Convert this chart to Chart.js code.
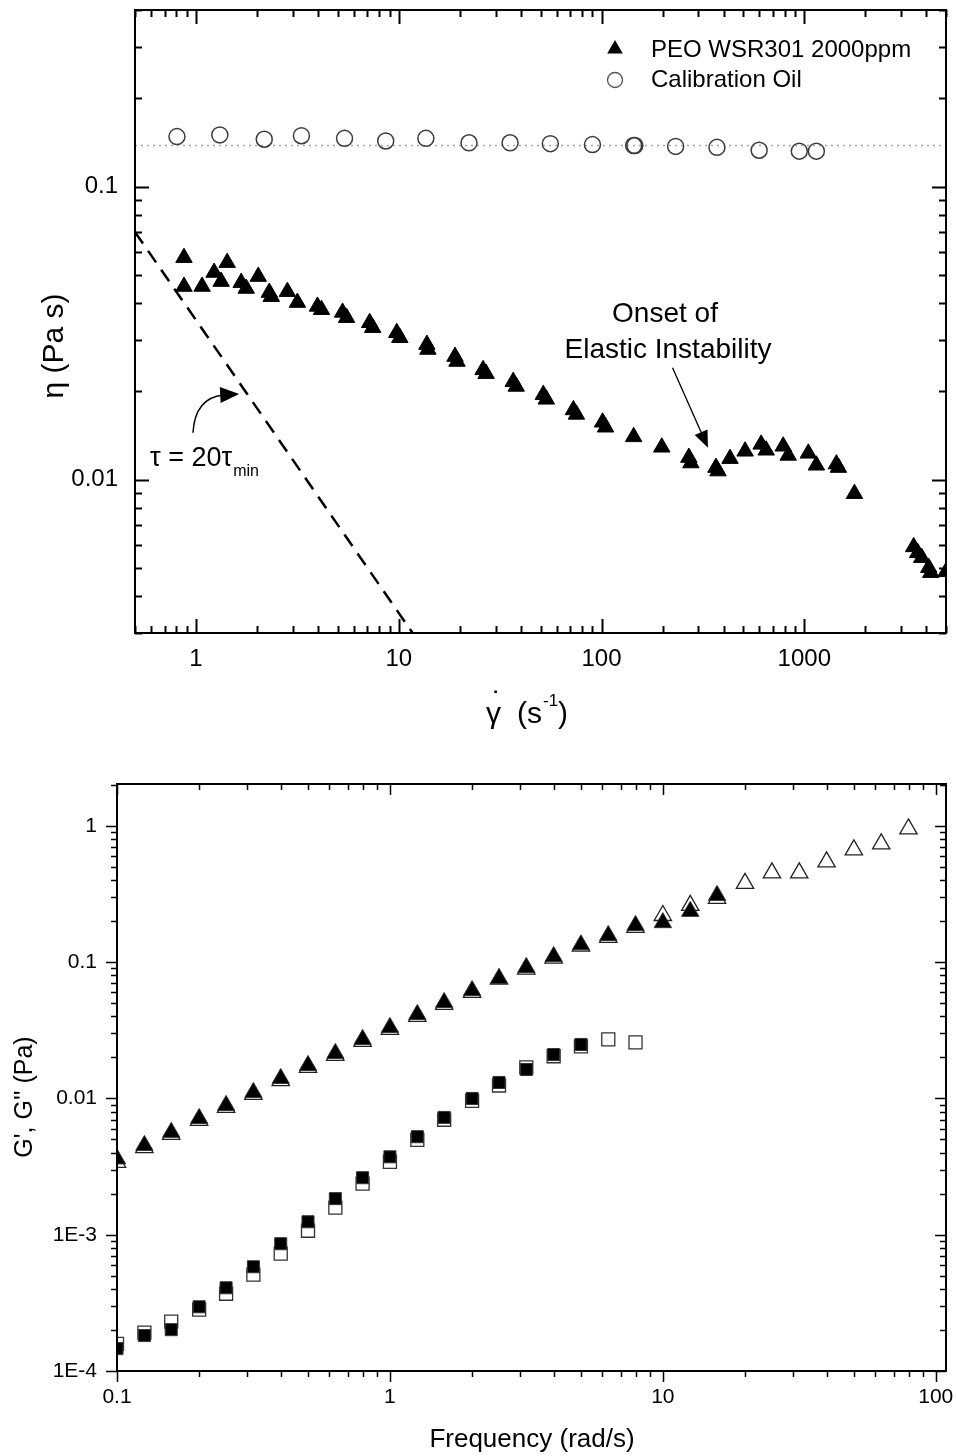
<!DOCTYPE html>
<html>
<head>
<meta charset="utf-8">
<script src="https://cdn.jsdelivr.net/npm/chart.js@4.4.1/dist/chart.umd.min.js"></script>
<style>
  html, body { margin: 0; padding: 0; background: #fff; }
  #page { position: relative; width: 956px; height: 1456px; }
  canvas { position: absolute; left: 0; }
  #viscChart { top: 0; }
  #modChart { top: 745px; }
</style>
</head>
<body>
<div id="page">
  <canvas id="viscChart" width="956" height="745"></canvas>
  <canvas id="modChart" width="956" height="711"></canvas>
</div>
<script>
// top chart: viscosity vs shear rate
const peoShear = [0.872, 0.872, 1.071, 1.228, 1.330, 1.424, 1.670, 1.768, 2.027, 2.298,
  2.351, 2.822, 3.162, 3.972, 4.157, 5.281, 5.528, 7.186, 7.435, 9.773,
  10.12, 13.76, 13.92, 18.94, 19.37, 26.05, 26.96, 36.68, 37.95, 51.62,
  53.41, 72.66, 75.18, 101.2, 104.7, 144.0, 198.2, 269.6, 275.8, 366.7,
  375.2, 430.2, 510.6, 612.6, 648.6, 787.0, 833.3, 1047, 1147, 1440,
  1474, 1768, 3464, 3626, 3795, 4111, 4206, 5000];
const peoVisc = [0.0572, 0.0456, 0.0456, 0.0509, 0.0474, 0.0550, 0.0470, 0.0449, 0.0493, 0.0435,
  0.0421, 0.0438, 0.0402, 0.0390, 0.0380, 0.0372, 0.0357, 0.0343, 0.0330, 0.0317,
  0.0305, 0.0289, 0.0278, 0.0263, 0.0253, 0.0237, 0.0230, 0.0216, 0.0208, 0.0195,
  0.0188, 0.0173, 0.0167, 0.0157, 0.0151, 0.0140, 0.0129, 0.0119, 0.0114, 0.0110,
  0.0107, 0.0118, 0.0125, 0.0132, 0.0126, 0.0130, 0.0121, 0.0123, 0.0112, 0.0113,
  0.0110, 0.00896, 0.00590, 0.00563, 0.00542, 0.00501, 0.00482, 0.00485];
const oilShear = [0.805, 1.31, 2.17, 3.31, 5.40, 8.62, 13.6, 22.2, 35.4, 55.9, 90.2, 144, 146, 232, 371, 599, 945, 1147];
const oilVisc = [0.148, 0.150, 0.145, 0.149, 0.146, 0.143, 0.146, 0.141, 0.141, 0.140, 0.139, 0.138, 0.138, 0.137, 0.136, 0.133, 0.132, 0.132];
const oilLevelShear = [0.5, 5000];
const oilLevelVisc = [0.138, 0.138];
const tauShear = [0.5, 11.7];
const tauVisc = [0.07, 0.003];
const viscXTicks = [1, 10, 100, 1000];
const viscXLabels = ["1", "10", "100", "1000"];
const viscYTicks = [0.01, 0.1];
const viscYLabels = ["0.01", "0.1"];

// bottom chart: G', G'' vs frequency
const freq = [0.1, 0.126, 0.158, 0.2, 0.251, 0.316, 0.398, 0.501, 0.631, 0.794,
  1, 1.26, 1.58, 2, 2.51, 3.16, 3.98, 5.01, 6.31, 7.94,
  10, 12.6, 15.8, 20, 25.1, 31.6, 39.8, 50.1, 63.1, 79.4];
const triFilled = [0.0036, 0.00452, 0.00564, 0.00713, 0.00889, 0.01107, 0.0140, 0.01746, 0.0214, 0.0271,
  0.0332, 0.0413, 0.0506, 0.0619, 0.0759, 0.0914, 0.110, 0.134, 0.157, 0.186,
  0.195, 0.236, 0.309];
const triOpen = [0.0034, 0.00435, 0.00545, 0.0069, 0.0086, 0.0107, 0.0135, 0.0169, 0.0207, 0.0262,
  0.0321, 0.040, 0.049, 0.060, 0.075, 0.089, 0.107, 0.131, 0.152, 0.180,
  0.220, 0.261, 0.294, 0.379, 0.452, 0.452, 0.545, 0.667, 0.738, 0.95];
const sqFilled = [1.46e-4, 1.82e-4, 2.01e-4, 2.96e-4, 4.08e-4, 5.82e-4, 8.59e-4, 1.245e-3, 1.84e-3, 2.62e-3,
  3.73e-3, 5.24e-3, 7.26e-3, 0.0100, 0.0131, 0.0163, 0.0210, 0.0249];
const sqOpen = [1.58e-4, 1.91e-4, 2.30e-4, 2.82e-4, 3.69e-4, 5.09e-4, 7.26e-4, 1.07e-3, 1.58e-3, 2.37e-3,
  3.43e-3, 4.97e-3, 6.98e-3, 0.0096, 0.01245, 0.0169, 0.0204, 0.0241, 0.0271, 0.0258];
const modXTicks = [0.1, 1, 10, 100];
const modXLabels = ["0.1", "1", "10", "100"];
const modYTicks = [1e-4, 1e-3, 0.01, 0.1, 1];
const modYLabels = ["1E-4", "1E-3", "0.01", "0.1", "1"];

const FONT = "'Liberation Sans', Arial, sans-serif";
Chart.defaults.font.family = FONT;
Chart.defaults.color = "#000";

function pts(xs, ys) {
  return ys.map((y, i) => ({ x: xs[i], y: y }));
}

function logSteps(min, max) {
  const out = [];
  for (let k = Math.floor(Math.log10(min)); k <= Math.ceil(Math.log10(max)); k++) {
    for (let m = 1; m <= 9; m++) {
      const v = m * Math.pow(10, k);
      if (v >= min * 0.9999 && v <= max * 1.0001) out.push({ v: v, major: m === 1 });
    }
  }
  return out;
}

// box round the plot area plus major/minor log ticks on all four sides
const framePlugin = {
  id: "frame",
  afterDatasetsDraw(chart, args, opts) {
    const { ctx, chartArea: a, scales: { x, y } } = chart;
    const d = opts.dirs;
    ctx.save();
    ctx.strokeStyle = "#000";
    ctx.lineWidth = opts.tickWidth;
    ctx.beginPath();
    logSteps(x.min, x.max).forEach(t => {
      const px = Math.round(x.getPixelForValue(t.v)) + 0.5;
      const len = t.major ? opts.major : opts.minor;
      ctx.moveTo(px, a.bottom); ctx.lineTo(px, a.bottom + d.bottom * len);
      ctx.moveTo(px, a.top); ctx.lineTo(px, a.top + d.top * len);
    });
    logSteps(y.min, y.max).forEach(t => {
      const py = Math.round(y.getPixelForValue(t.v)) + 0.5;
      const len = t.major ? opts.major : opts.minor;
      ctx.moveTo(a.left, py); ctx.lineTo(a.left + d.left * len, py);
      ctx.moveTo(a.right, py); ctx.lineTo(a.right + d.right * len, py);
    });
    ctx.stroke();
    ctx.lineWidth = opts.width;
    ctx.strokeRect(a.left, a.top, a.right - a.left, a.bottom - a.top);
    ctx.restore();
  }
};

function triPath(ctx, x, y, r) {
  ctx.beginPath();
  ctx.moveTo(x, y - r);
  ctx.lineTo(x + r * 0.866, y + r / 2);
  ctx.lineTo(x - r * 0.866, y + r / 2);
  ctx.closePath();
}

function arrowHead(ctx, x, y, ang, len, hw) {
  const c = Math.cos(ang), s = Math.sin(ang);
  ctx.beginPath();
  ctx.moveTo(x, y);
  ctx.lineTo(x - len * c - hw * s, y - len * s + hw * c);
  ctx.lineTo(x - len * c + hw * s, y - len * s - hw * c);
  ctx.closePath();
  ctx.fill();
}

// legend, arrows and labels of the top chart
const viscNotes = {
  id: "viscNotes",
  afterDraw(chart) {
    const { ctx, scales: { x, y } } = chart;
    ctx.save();
    ctx.fillStyle = "#000";
    ctx.strokeStyle = "#000";

    // legend
    triPath(ctx, 615, 49, 9);
    ctx.fill();
    ctx.beginPath();
    ctx.arc(615, 80, 7.5, 0, Math.PI * 2);
    ctx.lineWidth = 1.3;
    ctx.strokeStyle = "#555";
    ctx.stroke();
    ctx.strokeStyle = "#000";
    ctx.font = "24px " + FONT;
    ctx.textAlign = "left";
    ctx.textBaseline = "middle";
    ctx.fillText(chart.data.datasets[0].label, 651, 50);
    ctx.fillText(chart.data.datasets[1].label, 651, 80);

    // onset label + straight arrow
    ctx.font = "28px " + FONT;
    ctx.textAlign = "center";
    ctx.textBaseline = "alphabetic";
    ctx.fillText("Onset of", 665, 322);
    ctx.fillText("Elastic Instability", 668, 358);
    const sx = x.getPixelForValue(224), sy = y.getPixelForValue(0.0241);
    const ex = x.getPixelForValue(335), ey = y.getPixelForValue(0.01285);
    const ang = Math.atan2(ey - sy, ex - sx);
    ctx.lineWidth = 1.3;
    ctx.beginPath();
    ctx.moveTo(sx, sy);
    ctx.lineTo(ex - 12 * Math.cos(ang), ey - 12 * Math.sin(ang));
    ctx.stroke();
    arrowHead(ctx, ex, ey, ang, 17, 7);

    // tau label + curved arrow
    const cx0 = x.getPixelForValue(0.966), cy0 = y.getPixelForValue(0.01446);
    const tx = x.getPixelForValue(1.633), ty = y.getPixelForValue(0.0196);
    ctx.lineWidth = 1.5;
    ctx.beginPath();
    ctx.moveTo(cx0, cy0);
    ctx.quadraticCurveTo(cx0 + 2, ty + 4, tx - 16, ty + 1);
    ctx.stroke();
    arrowHead(ctx, tx, ty, -0.05, 19, 8);

    ctx.font = "27px " + FONT;
    ctx.textAlign = "left";
    const main = "\u03c4 = 20\u03c4";
    ctx.fillText(main, 150, 466);
    const w = ctx.measureText(main).width;
    ctx.font = "16px " + FONT;
    ctx.fillText("min", 150 + w + 1, 476);

    // axis titles
    ctx.font = "30px " + FONT;
    ctx.fillText("\u03b3", 486, 723);
    ctx.textAlign = "center";
    ctx.fillText("\u02d9", 497, 712);
    ctx.textAlign = "left";
    ctx.fillText("(s", 517, 723);
    ctx.font = "17px " + FONT;
    ctx.fillText("-1", 543, 706);
    ctx.font = "30px " + FONT;
    ctx.fillText(")", 558, 723);

    ctx.translate(55, 346);
    ctx.rotate(-Math.PI / 2);
    ctx.textAlign = "center";
    ctx.textBaseline = "middle";
    ctx.fillText("\u03b7 (Pa s)", 0, 0);
    ctx.restore();
  }
};

const modNotes = {
  id: "modNotes",
  afterDraw(chart) {
    const ctx = chart.ctx;
    ctx.save();
    ctx.fillStyle = "#000";
    ctx.textAlign = "center";
    ctx.textBaseline = "middle";
    ctx.font = "26px " + FONT;
    ctx.fillText("Frequency (rad/s)", 532, 695);
    ctx.translate(25, 352);
    ctx.rotate(-Math.PI / 2);
    ctx.font = "25px " + FONT;
    ctx.fillText("G', G'' (Pa)", 0, 0);
    ctx.restore();
  }
};

function logAxis(min, max, ticks, labels, fontSize, pad, fit) {
  return {
    type: "logarithmic",
    min: min,
    max: max,
    grid: { display: false, drawTicks: false },
    border: { display: false },
    afterBuildTicks: s => { s.ticks = ticks.map(v => ({ value: v })); },
    ticks: {
      autoSkip: false,
      maxRotation: 0,
      padding: pad,
      font: { size: fontSize },
      color: "#000",
      callback: (v, i) => labels[i]
    },
    afterFit: s => {
      fit(s);
      // the plot area is placed by layout.padding only
      s.paddingTop = 0; s.paddingBottom = 0; s.paddingLeft = 0; s.paddingRight = 0;
    }
  };
}

new Chart(document.getElementById("viscChart"), {
  type: "scatter",
  data: {
    datasets: [
      {
        label: "PEO WSR301 2000ppm",
        data: pts(peoShear, peoVisc),
        pointStyle: "triangle",
        pointRadius: 9.5,
        backgroundColor: "#000",
        borderColor: "#000",
        borderWidth: 1,
        clip: 0
      },
      {
        label: "Calibration Oil",
        data: pts(oilShear, oilVisc),
        pointStyle: "circle",
        pointRadius: 8,
        backgroundColor: "rgba(0,0,0,0)",
        borderColor: "#3c3c3c",
        borderWidth: 1.5,
        clip: 0
      },
      {
        label: "oil level",
        data: pts(oilLevelShear, oilLevelVisc),
        showLine: true,
        pointRadius: 0,
        borderColor: "#a8a8a8",
        borderWidth: 1.3,
        borderDash: [2, 4],
        clip: 0
      },
      {
        label: "tau",
        data: pts(tauShear, tauVisc),
        showLine: true,
        pointRadius: 0,
        borderColor: "#000",
        borderWidth: 2.5,
        borderDash: [14, 9],
        clip: 0
      }
    ]
  },
  options: {
    responsive: false,
    devicePixelRatio: 1,
    animation: false,
    events: [],
    layout: { autoPadding: false, padding: { left: 0, top: 10, right: 10, bottom: 0 } },
    scales: {
      x: logAxis(0.5, 5000, viscXTicks, viscXLabels, 24, 12, s => { s.height = 112; }),
      y: logAxis(0.003, 0.4, viscYTicks, viscYLabels, 24, 17, s => { s.width = 135; })
    },
    plugins: {
      legend: { display: false },
      tooltip: { enabled: false },
      frame: { dirs: { bottom: -1, top: 1, left: 1, right: -1 }, major: 14, minor: 7, width: 2, tickWidth: 2 }
    }
  },
  plugins: [framePlugin, viscNotes]
});

new Chart(document.getElementById("modChart"), {
  type: "scatter",
  data: {
    datasets: [
      {
        label: "G' filled",
        data: pts(freq, triFilled),
        pointStyle: "triangle",
        pointRadius: 10,
        backgroundColor: "#000",
        borderColor: "#333",
        borderWidth: 1,
        order: 0,
        clip: 0
      },
      {
        label: "G' open",
        data: pts(freq, triOpen),
        pointStyle: "triangle",
        pointRadius: 10,
        backgroundColor: "#fff",
        borderColor: "#222",
        borderWidth: 1.3,
        order: 1,
        clip: 0
      },
      {
        label: "G'' filled",
        data: pts(freq, sqFilled),
        pointStyle: "rect",
        pointRadius: 8.5,
        backgroundColor: "#000",
        borderColor: "#333",
        borderWidth: 1,
        order: 0,
        clip: 0
      },
      {
        label: "G'' open",
        data: pts(freq, sqOpen),
        pointStyle: "rect",
        pointRadius: 9.2,
        backgroundColor: "#fff",
        borderColor: "#333",
        borderWidth: 1.3,
        order: 1,
        clip: 0
      }
    ]
  },
  options: {
    responsive: false,
    devicePixelRatio: 1,
    animation: false,
    events: [],
    layout: { autoPadding: false, padding: { left: 0, top: 39, right: 10, bottom: 0 } },
    scales: {
      x: logAxis(0.1, 109, modXTicks, modXLabels, 21, 14, s => { s.height = 85; }),
      y: logAxis(1e-4, 2.03, modYTicks, modYLabels, 21, 20, s => { s.width = 117; })
    },
    plugins: {
      legend: { display: false },
      tooltip: { enabled: false },
      frame: { dirs: { bottom: 1, top: 1, left: -1, right: -1 }, major: 11, minor: 6, width: 2, tickWidth: 1.5 }
    }
  },
  plugins: [framePlugin, modNotes]
});
</script>
</body>
</html>
